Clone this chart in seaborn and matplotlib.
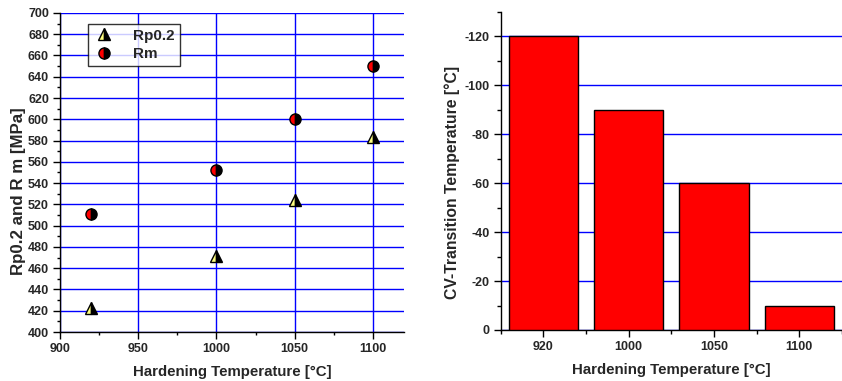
import matplotlib
matplotlib.use("Agg")
import matplotlib.pyplot as plt
from matplotlib.ticker import MultipleLocator, FixedLocator, FuncFormatter
import seaborn as sns
import pandas as pd

# ---- data ----
hardening_temp = [920, 1000, 1050, 1100]
rp02 = [423, 471, 524, 583]
rm = [511, 552, 600, 650]
cv_categories = ["920", "1000", "1050", "1100"]
cv_transition = [-120, -90, -60, -10]

sns.set_style("white")
plt.rcParams["font.family"] = ["Liberation Sans", "DejaVu Sans"]
plt.rcParams["font.weight"] = "bold"
plt.rcParams["axes.unicode_minus"] = False

fig = plt.figure(figsize=(8.42, 3.81), dpi=100)
ax1 = fig.add_axes([0.0713, 0.1286, 0.4087, 0.8374])
ax2 = fig.add_axes([0.5947, 0.1339, 0.4053, 0.8346])

GRID = "#0000ff"
TICK_FS = 9.0

# ---- left chart ----
df_rp = pd.DataFrame({"T": hardening_temp, "v": rp02})
df_rm = pd.DataFrame({"T": hardening_temp, "v": rm})
sns.lineplot(data=df_rp, x="T", y="v", ax=ax1, linestyle="", marker="^",
             markersize=8.5, fillstyle="left", markerfacecolor="#ffff80",
             markerfacecoloralt="black", markeredgecolor="black",
             markeredgewidth=1.0, color="black", label="Rp0.2", zorder=5)
sns.lineplot(data=df_rm, x="T", y="v", ax=ax1, linestyle="", marker="o",
             markersize=8, fillstyle="left", markerfacecolor="red",
             markerfacecoloralt="black", markeredgecolor="black",
             markeredgewidth=1.0, color="black", label="Rm", zorder=5)

ax1.set_xlim(900, 1120)
ax1.set_ylim(400, 700)
ax1.xaxis.set_major_locator(MultipleLocator(50))
ax1.xaxis.set_minor_locator(MultipleLocator(25))
ax1.yaxis.set_major_locator(MultipleLocator(20))
ax1.yaxis.set_minor_locator(MultipleLocator(10))
ax1.grid(True, which="major", color=GRID, linewidth=1.0, zorder=0)
ax1.set_axisbelow(True)
for s in ["top", "right"]:
    ax1.spines[s].set_visible(False)
for s in ["left", "bottom"]:
    ax1.spines[s].set_color("black")
    ax1.spines[s].set_linewidth(1.0)
ax1.tick_params(which="major", direction="out", length=5, width=1, pad=3,
                labelsize=TICK_FS, bottom=True, left=True, color="black")
ax1.tick_params(which="minor", direction="out", length=2.5, width=1,
                bottom=True, left=True, color="black")
ax1.set_xlabel("Hardening Temperature [°C]", fontsize=10.8, fontweight="bold", labelpad=7)
ax1.set_ylabel("Rp0.2 and R m [MPa]", fontsize=12.2, fontweight="bold")
ax1.yaxis.set_label_coords(-0.1, 0.44)
for lab in ax1.get_xticklabels() + ax1.get_yticklabels():
    lab.set_fontweight("bold")
leg = ax1.legend(loc="upper left", bbox_to_anchor=(0.08, 0.965), frameon=True,
                 fancybox=False, edgecolor="black", fontsize=11,
                 handletextpad=1.2, borderpad=0.3, labelspacing=0.3,
                 handlelength=1.5, borderaxespad=0)
leg.get_frame().set_linewidth(1.0)
for t in leg.get_texts():
    t.set_fontweight("bold")

# ---- right chart ----
df_cv = pd.DataFrame({"T": cv_categories, "v": cv_transition})
sns.barplot(data=df_cv, x="T", y="v", order=cv_categories, ax=ax2,
            color="red", saturation=1, width=0.81, edgecolor="black",
            linewidth=1.0, zorder=3)
ax2.set_xlim(-0.5, 3.5)
ax2.set_ylim(0, -130)
ax2.yaxis.set_major_locator(FixedLocator([0, -20, -40, -60, -80, -100, -120]))
ax2.yaxis.set_minor_locator(MultipleLocator(10))
ax2.yaxis.set_major_formatter(FuncFormatter(lambda v, p: f"{int(round(v))}"))
ax2.xaxis.set_minor_locator(FixedLocator([-0.5, 0.5, 1.5, 2.5, 3.5]))
ax2.grid(False)
ax2.yaxis.grid(True, which="major", color=GRID, linewidth=1.0, zorder=0)
ax2.set_axisbelow(True)
for s in ["top", "right"]:
    ax2.spines[s].set_visible(False)
for s in ["left", "bottom"]:
    ax2.spines[s].set_color("black")
    ax2.spines[s].set_linewidth(1.0)
ax2.tick_params(which="major", direction="out", length=5, width=1, pad=3,
                labelsize=TICK_FS, bottom=True, left=True, color="black")
ax2.tick_params(which="minor", direction="out", length=3, width=1,
                bottom=True, left=True, color="black")
ax2.set_xlabel("Hardening Temperature [°C]", fontsize=10.8, fontweight="bold", labelpad=7)
ax2.set_ylabel("CV-Transition Temperature [°C]", fontsize=11.3, fontweight="bold")
ax2.yaxis.set_label_coords(-0.12, 0.465)
for lab in ax2.get_xticklabels() + ax2.get_yticklabels():
    lab.set_fontweight("bold")

fig.savefig("out.png", dpi=100)
